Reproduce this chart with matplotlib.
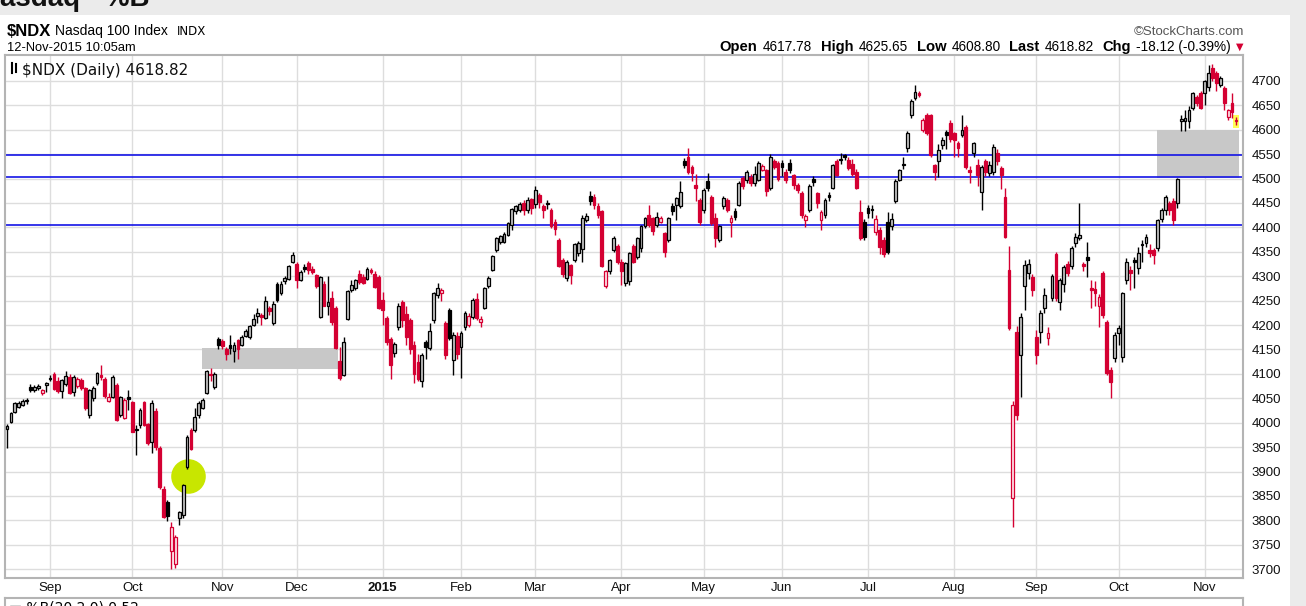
import numpy as np
import pandas as pd
import matplotlib
matplotlib.use('Agg')
import matplotlib.pyplot as plt
from matplotlib.patches import Rectangle

# daily OHLC of $NDX, 15-Aug-2014 .. 12-Nov-2015
opens = [
    3988, 4002, 4021, 4032, 4037, 4045, 4073, 4068, 4071, 4060, 4078,
    4089, 4099, 4085, 4065, 4080, 4094, 4062, 4076, 4088, 4072, 4015, 4050, 4082, 4098, 4090, 4045, 4053, 4078, 4015, 4010, 4053,
    4042, 3985, 3996, 4042, 3998, 3961, 4025, 3948, 3865, 3838, 3738, 3710, 3805, 3810, 3910, 3985, 3985, 4016, 4030, 4060, 4100, 4073, 4172,
    4167, 4150, 4160, 4146, 4170, 4160, 4178, 4175, 4200, 4218, 4220, 4215, 4235, 4204, 4285, 4265, 4290, 4295, 4330,
    4326, 4292, 4318, 4328, 4315, 4302, 4217, 4285, 4240, 4255, 4234, 4126, 4097, 4213, 4271, 4275, 4305, 4298, 4295, 4313, 4305, 4299,
    4252, 4215, 4172, 4142, 4196, 4247, 4222, 4210, 4160, 4125, 4085, 4166, 4152, 4211, 4262, 4265, 4204, 4231, 4129, 4178,
    4156, 4197, 4200, 4217, 4254, 4207, 4235, 4279, 4313, 4354, 4371, 4371, 4385, 4405, 4433, 4436, 4450, 4436, 4458,
    4447, 4467, 4443, 4450, 4436, 4412, 4375, 4334, 4296, 4323, 4334, 4347, 4355, 4416, 4464, 4462, 4443, 4433, 4279, 4310, 4354, 4361,
    4330, 4286, 4290, 4361, 4340, 4357, 4402, 4426, 4419, 4405, 4412, 4388, 4374, 4443, 4446, 4443, 4535, 4545, 4524, 4487, 4456,
    4436, 4494, 4463, 4419, 4374, 4443, 4456, 4412, 4433, 4446, 4501, 4497, 4504, 4490, 4497, 4518, 4518, 4480, 4535, 4531,
    4531, 4514, 4531, 4507, 4486, 4470, 4416, 4436, 4500, 4470, 4415, 4425, 4466, 4480, 4536, 4540, 4548, 4538, 4530, 4514, 4432, 4412,
    4439, 4437, 4391, 4395, 4375, 4412, 4402, 4453, 4497, 4530, 4562, 4630, 4664, 4675, 4600, 4630, 4630, 4528, 4535, 4569, 4596, 4613,
    4593, 4572, 4590, 4606, 4518, 4552, 4528, 4473, 4535, 4511, 4514, 4552, 4521, 4463, 4313, 3845, 4186, 4139, 4279, 4306, 4299,
    4176, 4185, 4234, 4173, 4255, 4345, 4248, 4285, 4325, 4320, 4367, 4378, 4325, 4340, 4275, 4274, 4238, 4306, 4207, 4108, 4132,
    4183, 4135, 4292, 4313, 4333, 4316, 4366, 4367, 4353, 4354, 4357, 4418, 4436, 4449, 4453, 4449, 4618, 4617, 4617, 4644, 4668, 4675,
    4675, 4688, 4726, 4716, 4692, 4685, 4627, 4654, 4617.78,
]
highs = [
    3997, 4022, 4043, 4044, 4048, 4050, 4079, 4078, 4080, 4070, 4083,
    4097, 4103, 4093, 4090, 4105, 4100, 4098, 4093, 4092, 4074, 4070, 4076, 4103, 4118, 4093, 4060, 4097, 4082, 4055, 4050, 4067,
    4045, 3995, 4030, 4045, 4000, 4046, 4030, 3952, 3870, 3842, 3796, 3770, 3820, 3874, 3975, 3990, 4030, 4045, 4050, 4108, 4112, 4103, 4175,
    4172, 4155, 4180, 4165, 4172, 4180, 4192, 4200, 4222, 4235, 4225, 4260, 4240, 4250, 4288, 4290, 4300, 4322, 4349,
    4330, 4312, 4325, 4332, 4320, 4305, 4300, 4290, 4300, 4270, 4240, 4155, 4176, 4272, 4292, 4295, 4312, 4305, 4318, 4316, 4310, 4303,
    4268, 4218, 4176, 4165, 4245, 4252, 4240, 4215, 4168, 4140, 4142, 4170, 4205, 4268, 4286, 4276, 4208, 4235, 4185, 4185,
    4188, 4228, 4225, 4255, 4265, 4218, 4278, 4300, 4343, 4380, 4385, 4390, 4412, 4440, 4446, 4452, 4457, 4462, 4460,
    4485, 4470, 4448, 4456, 4440, 4418, 4378, 4338, 4333, 4326, 4368, 4372, 4425, 4430, 4475, 4468, 4450, 4436, 4313, 4336, 4382, 4365,
    4335, 4330, 4350, 4365, 4380, 4405, 4422, 4446, 4422, 4432, 4423, 4390, 4422, 4450, 4463, 4494, 4542, 4562, 4528, 4510, 4460,
    4480, 4511, 4466, 4430, 4405, 4465, 4460, 4425, 4440, 4495, 4505, 4518, 4510, 4525, 4535, 4530, 4520, 4550, 4540, 4535,
    4538, 4520, 4540, 4510, 4490, 4475, 4428, 4488, 4505, 4472, 4435, 4460, 4472, 4530, 4540, 4552, 4550, 4545, 4540, 4520, 4456, 4418,
    4445, 4445, 4425, 4400, 4380, 4432, 4430, 4500, 4520, 4545, 4597, 4662, 4692, 4680, 4625, 4635, 4633, 4530, 4570, 4585, 4600, 4620,
    4596, 4576, 4630, 4610, 4525, 4575, 4540, 4527, 4540, 4535, 4570, 4560, 4525, 4480, 4361, 4045, 4198, 4224, 4333, 4335, 4305,
    4190, 4230, 4275, 4195, 4305, 4350, 4296, 4322, 4332, 4362, 4388, 4449, 4330, 4370, 4292, 4290, 4263, 4310, 4210, 4115, 4185,
    4200, 4268, 4337, 4320, 4340, 4360, 4375, 4387, 4365, 4358, 4418, 4440, 4467, 4453, 4460, 4502, 4630, 4640, 4648, 4677, 4672, 4680,
    4702, 4733, 4735, 4720, 4710, 4690, 4643, 4675, 4625.65,
]
lows = [
    3949, 3999, 4020, 4030, 4034, 4038, 4062, 4063, 4066, 4056, 4062,
    4086, 4066, 4060, 4050, 4076, 4058, 4055, 4072, 4068, 4026, 4010, 4045, 4078, 4088, 4050, 4042, 4050, 4004, 4012, 4008, 4026,
    3980, 3934, 3990, 3994, 3955, 3937, 3945, 3865, 3805, 3798, 3701, 3702, 3790, 3805, 3905, 3945, 3982, 4010, 4028, 4058, 4085, 4070, 4150,
    4150, 4128, 4140, 4125, 4130, 4158, 4175, 4172, 4198, 4205, 4200, 4212, 4220, 4200, 4248, 4262, 4285, 4293, 4328,
    4275, 4290, 4308, 4305, 4305, 4276, 4215, 4238, 4220, 4200, 4150, 4088, 4095, 4210, 4268, 4272, 4285, 4285, 4292, 4305, 4275, 4232,
    4200, 4160, 4090, 4135, 4190, 4195, 4160, 4140, 4082, 4085, 4074, 4130, 4148, 4205, 4255, 4250, 4130, 4170, 4098, 4130,
    4091, 4190, 4195, 4212, 4210, 4196, 4232, 4275, 4310, 4350, 4365, 4368, 4383, 4395, 4428, 4432, 4426, 4430, 4428,
    4440, 4440, 4420, 4438, 4398, 4385, 4318, 4298, 4290, 4285, 4330, 4342, 4330, 4410, 4445, 4438, 4420, 4318, 4275, 4305, 4350, 4325,
    4282, 4280, 4282, 4328, 4335, 4350, 4398, 4400, 4385, 4400, 4408, 4340, 4370, 4425, 4415, 4440, 4521, 4510, 4495, 4455, 4405,
    4430, 4475, 4405, 4360, 4370, 4438, 4432, 4381, 4415, 4443, 4478, 4490, 4485, 4484, 4495, 4515, 4465, 4476, 4520, 4495,
    4505, 4490, 4512, 4478, 4470, 4420, 4400, 4432, 4485, 4440, 4395, 4420, 4455, 4478, 4505, 4530, 4538, 4518, 4505, 4478, 4375, 4375,
    4420, 4420, 4385, 4345, 4340, 4345, 4395, 4450, 4495, 4520, 4555, 4625, 4660, 4668, 4595, 4590, 4545, 4498, 4504, 4560, 4560, 4575,
    4545, 4545, 4585, 4520, 4490, 4545, 4485, 4436, 4505, 4505, 4508, 4528, 4478, 4378, 4190, 3787, 4005, 4053, 4231, 4295, 4260,
    4121, 4163, 4225, 4160, 4250, 4250, 4230, 4268, 4300, 4315, 4360, 4374, 4310, 4299, 4234, 4238, 4197, 4215, 4098, 4050, 4125,
    4160, 4125, 4285, 4272, 4275, 4305, 4330, 4360, 4340, 4326, 4352, 4412, 4425, 4425, 4405, 4440, 4597, 4598, 4603, 4640, 4648, 4642,
    4650, 4680, 4700, 4680, 4688, 4640, 4620, 4625, 4608.80,
]
closes = [
    3993, 4019, 4040, 4041, 4045, 4047, 4068, 4073, 4076, 4068, 4081,
    4092, 4069, 4064, 4088, 4095, 4061, 4094, 4090, 4072, 4030, 4067, 4071, 4101, 4094, 4055, 4053, 4094, 4006, 4052, 4046, 4048,
    3982, 3988, 4026, 3996, 3958, 4040, 3950, 3868, 3807, 3809, 3786, 3766, 3817, 3872, 3971, 3947, 4012, 4040, 4046, 4105, 4097, 4100, 4160,
    4158, 4140, 4152, 4160, 4150, 4176, 4188, 4198, 4213, 4224, 4217, 4250, 4228, 4244, 4252, 4285, 4297, 4320, 4343,
    4292, 4309, 4315, 4312, 4309, 4280, 4298, 4240, 4248, 4207, 4152, 4092, 4166, 4270, 4282, 4292, 4288, 4287, 4314, 4309, 4278, 4234,
    4230, 4165, 4118, 4162, 4240, 4210, 4175, 4150, 4100, 4090, 4139, 4156, 4187, 4265, 4275, 4272, 4139, 4173, 4180, 4140,
    4183, 4224, 4218, 4251, 4214, 4213, 4276, 4296, 4341, 4378, 4382, 4386, 4409, 4438, 4443, 4447, 4436, 4457, 4440,
    4477, 4452, 4435, 4447, 4402, 4397, 4320, 4305, 4330, 4303, 4365, 4368, 4420, 4423, 4453, 4445, 4426, 4320, 4310, 4334, 4378, 4330,
    4310, 4327, 4347, 4330, 4378, 4402, 4419, 4405, 4392, 4422, 4419, 4350, 4419, 4433, 4460, 4473, 4528, 4514, 4511, 4480, 4412,
    4477, 4480, 4409, 4378, 4402, 4460, 4436, 4419, 4422, 4491, 4484, 4514, 4490, 4510, 4532, 4525, 4474, 4545, 4524, 4500,
    4524, 4497, 4518, 4486, 4476, 4426, 4424, 4484, 4492, 4450, 4432, 4456, 4462, 4528, 4507, 4537, 4545, 4521, 4510, 4480, 4378, 4380,
    4430, 4435, 4418, 4360, 4345, 4350, 4418, 4494, 4518, 4527, 4593, 4658, 4678, 4672, 4620, 4593, 4548, 4514, 4559, 4579, 4590, 4582,
    4579, 4562, 4600, 4524, 4514, 4572, 4507, 4524, 4514, 4528, 4565, 4535, 4507, 4381, 4193, 4036, 4016, 4217, 4323, 4326, 4272,
    4138, 4225, 4262, 4183, 4300, 4255, 4292, 4318, 4306, 4358, 4381, 4385, 4321, 4333, 4272, 4265, 4258, 4220, 4101, 4084, 4180,
    4193, 4265, 4330, 4306, 4330, 4347, 4364, 4381, 4347, 4343, 4415, 4436, 4463, 4436, 4415, 4500, 4622, 4623, 4641, 4675, 4654, 4644,
    4699, 4716, 4706, 4695, 4705, 4654, 4640, 4636.94, 4618.82,
]

holidays = ['2014-09-01', '2014-11-27', '2014-12-25', '2015-01-01', '2015-01-19',
            '2015-02-16', '2015-04-03', '2015-05-25', '2015-07-03', '2015-09-07']
month_names = ['Jan', 'Feb', 'Mar', 'Apr', 'May', 'Jun', 'Jul', 'Aug', 'Sep', 'Oct', 'Nov', 'Dec']

support_levels = [4548, 4503, 4404]
# (first index, last index, low, high) of the two shaded zones
zones = [(49.8, 84.5, 4111, 4152), (293.9, 314.8, 4501, 4600)]
marker_point = (46.2, 3891)

quote = [('Open', True), ('4617.78', False), ('High', True), ('4625.65', False),
         ('Low', True), ('4608.80', False), ('Last', True), ('4618.82', False),
         ('Chg', True), ('-18.12 (-0.39%)', False)]

RED = '#d40032'
W, H = 1306, 606


def fx(px):
    return px / W


def fy(py):
    return 1 - py / H


dates = pd.bdate_range('2014-08-15', '2015-11-12')
dates = dates[~dates.isin(pd.to_datetime(holidays))][:len(closes)]

o = np.array(opens, float)
h = np.array(highs, float)
l = np.array(lows, float)
c = np.array(closes, float)
x = np.arange(len(c))
prev = np.r_[c[0] - 1, c[:-1]]
edge = np.where(c >= prev, 'black', RED)
hollow = c >= o
fill = np.where(hollow, np.where(c >= prev, '#c6c6c6', '#ffe4ea'), edge)

plt.rcParams['font.family'] = ['Liberation Sans', 'DejaVu Sans']

fig = plt.figure(figsize=(W / 100, H / 100), dpi=100)
fig.patch.set_facecolor('#ebebeb')
fig.add_artist(Rectangle((0, 0), fx(1290), fy(15), transform=fig.transFigure,
                         facecolor='white', edgecolor='none', zorder=0))

ax = fig.add_axes([fx(5), fy(578), fx(1243 - 5), fy(55) - fy(578)])
ax.set_facecolor('white')
ax.set_xlim(-0.51, 315.8)
ax.set_ylim(3682, 4753)

# month ticks at first trading day of each month
mpos, mlab = [], []
for i in range(1, len(dates)):
    if dates[i].month != dates[i - 1].month:
        mpos.append(i)
        mlab.append(str(dates[i].year) if dates[i].month == 1 else month_names[dates[i].month - 1])
ax.set_xticks(mpos)
ax.set_xticklabels(mlab, fontsize=9.5)
for t in ax.get_xticklabels():
    if t.get_text().isdigit():
        t.set_fontweight('bold')
        t.set_fontsize(10.5)

ax.set_yticks(np.arange(3700, 4701, 50))
ax.yaxis.tick_right()
ax.tick_params(axis='both', length=0, labelsize=9.5, colors='#111111')
ax.tick_params(axis='y', pad=6)
ax.tick_params(axis='x', pad=3)
ax.grid(True, color='#dddddd', linewidth=1)
ax.set_axisbelow(True)
for s in ax.spines.values():
    s.set_color('#b4b4b4')
    s.set_linewidth(1.5)

for (x0, x1, y0, y1) in zones:
    ax.add_patch(Rectangle((x0, y0), x1 - x0, y1 - y0, facecolor='#c8c8c8',
                           edgecolor='none', zorder=1))
ax.scatter([marker_point[0]], [marker_point[1]], s=620, color='#c8e600', zorder=1.2, linewidths=0)
ax.add_patch(Rectangle((x[-1] - 0.8, 4604), 1.6, 26, facecolor='#ffff55', edgecolor='none', zorder=1.3))

for lev in support_levels:
    ax.axhline(lev, color='#1414e6', linewidth=1.2, zorder=1.5)

ax.vlines(x, np.minimum(l, np.minimum(o, c)), np.maximum(h, np.maximum(o, c)),
          colors=edge, linewidth=1.0, zorder=2)
body = np.maximum(np.abs(c - o), 2.0)
ax.bar(x, body, bottom=np.minimum(o, c), width=0.72, color=fill, edgecolor=edge,
       linewidth=0.9, zorder=3)

ax.text(0.0135, 0.984, '$NDX (Daily) 4618.82', transform=ax.transAxes, fontsize=11,
        family='DejaVu Sans', va='top', ha='left', color='#111111')
ax.plot([0.006, 0.006], [0.965, 0.985], transform=ax.transAxes, color='black', lw=1.5)
ax.plot([0.009, 0.009], [0.968, 0.982], transform=ax.transAxes, color='black', lw=1.5)

# header
fig.text(fx(-20), fy(6), 'Nasdaq - %B', fontsize=20, fontweight='bold', va='baseline', color='#111111')
fig.text(fx(7), fy(36), '$NDX', fontsize=12, fontweight='bold', va='baseline')
fig.text(fx(55), fy(35), 'Nasdaq 100 Index', fontsize=10, va='baseline')
fig.text(fx(177), fy(35), 'INDX', fontsize=8.5, va='baseline', family='DejaVu Sans')
fig.text(fx(7), fy(51), '12-Nov-2015 10:05am', fontsize=9.3, va='baseline')
fig.text(fx(1244), fy(35), '\u00a9StockCharts.com', fontsize=9.5, va='baseline', ha='right', color='#555555')

# quote line, laid out left to right and right-aligned before the arrow
renderer = fig.canvas.get_renderer()
pieces = []
for txt, bold in quote:
    t = fig.text(0, fy(51), txt, fontsize=10.6 if bold else 9.8, va='baseline',
                 fontweight='bold' if bold else 'normal')
    pieces.append((t, t.get_window_extent(renderer).width, bold))
gaps = [5 if b else 9 for _, _, b in pieces]
total = sum(w for _, w, _ in pieces) + sum(gaps[:-1])
xpos = 1231 - total
for (t, w, b), g in zip(pieces, gaps):
    t.set_x(fx(xpos))
    xpos += w + g
fig.text(fx(1236), fy(50), '\u25bc', fontsize=7, va='baseline', color=RED, family='DejaVu Sans')

# top of the %B panel below, cut off by the picture edge
ax2 = fig.add_axes([fx(5), -0.05, fx(1243 - 5), fy(598) + 0.05])
ax2.set_xticks([])
ax2.set_yticks([])
for s in ax2.spines.values():
    s.set_color('#b4b4b4')
    s.set_linewidth(1.5)
fig.text(fx(9), fy(612), '\u25ac %B(20,2.0) 0.52', fontsize=10, va='baseline', family='DejaVu Sans')

fig.savefig('out.png', dpi=100, facecolor=fig.get_facecolor())
